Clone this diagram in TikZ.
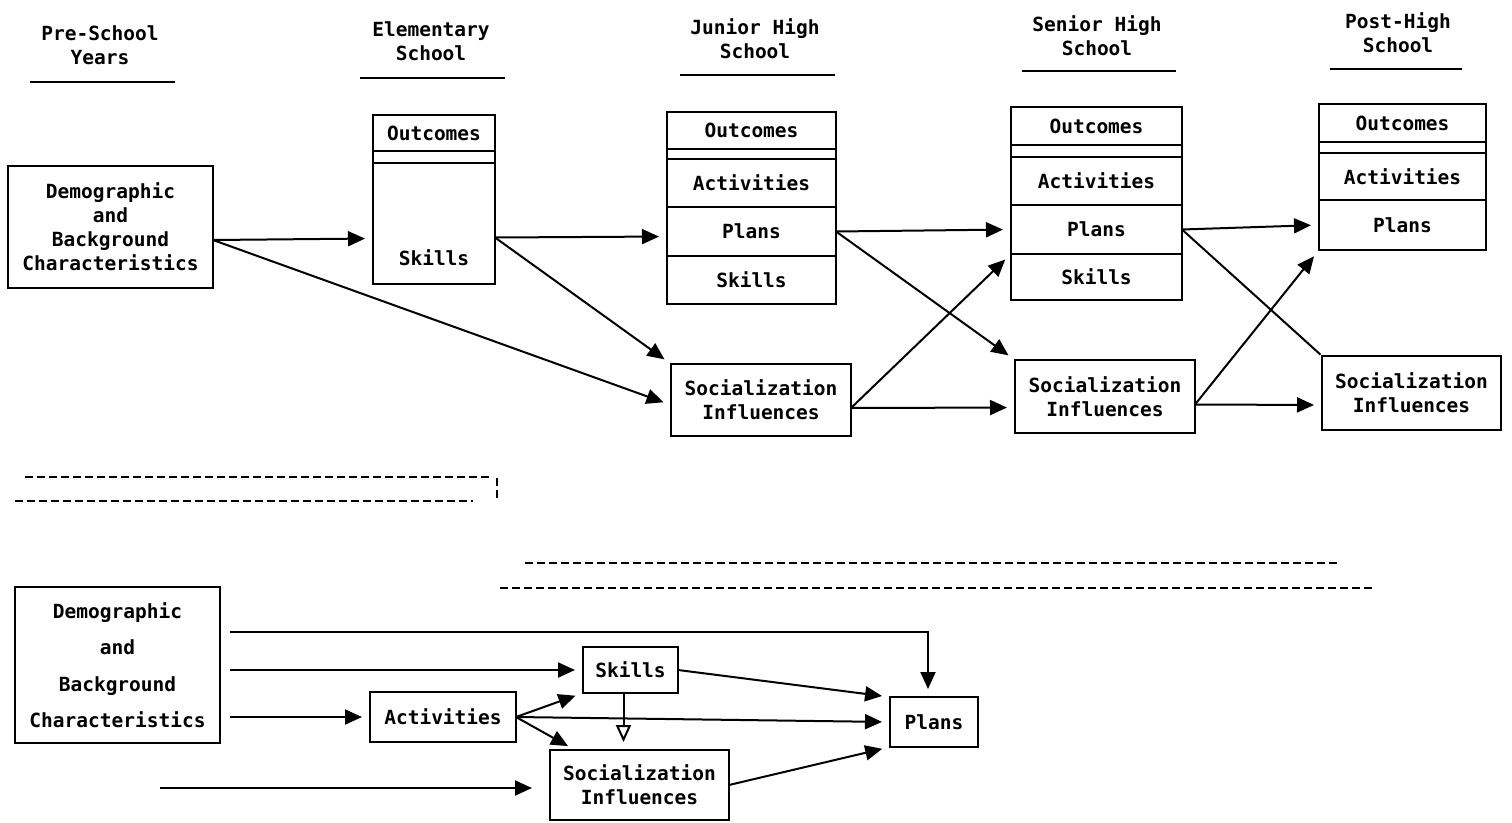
\documentclass[tikz,border=0pt]{standalone}
\usepackage{fontspec}
\setmonofont{DejaVu Sans Mono}
\usetikzlibrary{arrows.meta}
\begin{document}
\begin{tikzpicture}[x=1pt,y=-1pt,
    font=\ttfamily\bfseries\fontsize{19.5}{24}\selectfont,
    line width=2pt,
    cell/.style={draw,rectangle,inner sep=0pt,outer sep=0pt,align=center},
    head/.style={align=center},
    link/.style={-{Triangle[length=17pt,width=15pt]},shorten >=8pt}]
  \useasboundingbox (0,0) rectangle (1512,822);
  % column headings
  \node[head] (hPre) at (100,45.5) {Pre-School\\Years};
  \node[head] (hElem) at (431,41.5) {Elementary\\School};
  \node[head] (hJun) at (755,39) {Junior High\\School};
  \node[head] (hSen) at (1097,35.5) {Senior High\\School};
  \node[head] (hPost) at (1398,33) {Post-High\\School};
  \draw (30,82) -- (175,82);
  \draw (360,78) -- (505,78);
  \draw (680,75) -- (835,75);
  \draw (1022,71) -- (1176,71);
  \draw (1330,69) -- (1462,69);
  % upper model
  \node[cell,minimum width=205pt,minimum height=122pt] (demog) at (110.5,227)
    {Demographic\\and\\Background\\Characteristics};
  \node[cell,minimum width=122pt,minimum height=36pt] (eOut) at (434,133) {Outcomes};
  \node[cell,minimum width=122pt,minimum height=121pt] (eSkills) at (434,223.5) {};
  \node (eLbl) at (434,258) {Skills};
  \draw (eOut.south west) rectangle (eSkills.north east);
  \node[cell,minimum width=169pt,minimum height=37pt] (jOut) at (751.5,130.5) {Outcomes};
  \node[cell,minimum width=169pt,minimum height=48pt] (jAct) at (751.5,183) {Activities};
  \node[cell,minimum width=169pt,minimum height=49pt] (jPlans) at (751.5,231.5) {Plans};
  \node[cell,minimum width=169pt,minimum height=48pt] (jSkills) at (751.5,280) {Skills};
  \draw (jOut.south west) rectangle (jAct.north east);
  \node[cell,minimum width=171pt,minimum height=38pt] (sOut) at (1096.5,126) {Outcomes};
  \node[cell,minimum width=171pt,minimum height=48pt] (sAct) at (1096.5,181) {Activities};
  \node[cell,minimum width=171pt,minimum height=49pt] (sPlans) at (1096.5,229.5) {Plans};
  \node[cell,minimum width=171pt,minimum height=46pt] (sSkills) at (1096.5,277) {Skills};
  \draw (sOut.south west) rectangle (sAct.north east);
  \node[cell,minimum width=167pt,minimum height=38pt] (pOut) at (1402.5,123) {Outcomes};
  \node[cell,minimum width=167pt,minimum height=47pt] (pAct) at (1402.5,176.5) {Activities};
  \node[cell,minimum width=167pt,minimum height=50pt] (pPlans) at (1402.5,225) {Plans};
  \draw (pOut.south west) rectangle (pAct.north east);
  \node[cell,minimum width=180pt,minimum height=72pt] (jSoc) at (761,400) {Socialization\\Influences};
  \node[cell,minimum width=180pt,minimum height=73pt] (sSoc) at (1105,396.5) {Socialization\\Influences};
  \node[cell,minimum width=179pt,minimum height=74pt] (pSoc) at (1411.5,393) {Socialization\\Influences};
  % lower model
  \node[cell,minimum width=205pt,minimum height=156pt,
    font=\ttfamily\bfseries\fontsize{19.5}{36.5}\selectfont] (bDemog) at (117.5,665)
    {Demographic\\and\\Background\\Characteristics};
  \node[cell,minimum width=146pt,minimum height=50pt] (bAct) at (443,717) {Activities};
  \node[cell,minimum width=95pt,minimum height=46pt] (bSkills) at (630.5,670) {Skills};
  \node[cell,minimum width=179pt,minimum height=70pt] (bSoc) at (639.5,785) {Socialization\\Influences};
  \node[cell,minimum width=88pt,minimum height=50pt] (bPlans) at (934,722) {Plans};
  \coordinate (bIn) at (160,788);
  \begin{scope}[link]
    \draw ([yshift=-13pt]demog.east) to ([yshift=-15pt]eSkills.west);
    \draw ([yshift=-13pt]demog.east) to ([yshift=-5pt]jSoc.west);
    \draw ([yshift=-14pt]eSkills.east) to ([yshift=-5pt]jPlans.west);
    \draw ([yshift=-14pt]eSkills.east) to (jSoc.north west);
    \draw (jPlans.east) to (sPlans.west);
    \draw (jPlans.east) to (sSoc.north west);
    \draw ([yshift=-8pt]jSoc.east) to (sPlans.south west);
    \draw ([yshift=-8pt]jSoc.east) to ([yshift=-11pt]sSoc.west);
    \draw (sPlans.east) to (pPlans.west);
    \draw[-,shorten >=2pt] (sPlans.east) to (pSoc.north west);
    \draw ([yshift=-8pt]sSoc.east) to (pPlans.south west);
    \draw ([yshift=-8pt]sSoc.east) to ([yshift=-12pt]pSoc.west);
    \draw[shorten <=10pt] ([yshift=-45pt]bDemog.north east) -| ([xshift=-6pt]bPlans.north);
    \draw[shorten <=10pt] ([yshift=-83pt]bDemog.north east) to (bSkills.west);
    \draw[shorten <=10pt] (bDemog.east |- bAct.west) to (bAct.west);
    \draw[shorten >=18pt] (bIn) to (bSoc.west |- bIn);
    \draw (bAct.east) to (bSkills.south west);
    \draw (bAct.east) to (bPlans.west);
    \draw (bAct.east) to ([xshift=25pt]bSoc.north west);
    \draw (bSkills.east) to (bPlans.north west);
    \draw[-{Triangle[open,length=17pt,width=15pt]}] ([xshift=-7pt]bSkills.south) to ([xshift=-16pt]bSoc.north);
    \draw (bSoc.east) to (bPlans.south west);
  \end{scope}
  \begin{scope}[dash pattern=on 8pt off 4pt]
    \draw (25,477) -- (493,477);
    \draw (15,501) -- (473,501);
    \draw (497,478) -- (497,500);
    \draw (525,563) -- (1337,563);
    \draw (500,588) -- (1372,588);
  \end{scope}
\end{tikzpicture}
\end{document}
